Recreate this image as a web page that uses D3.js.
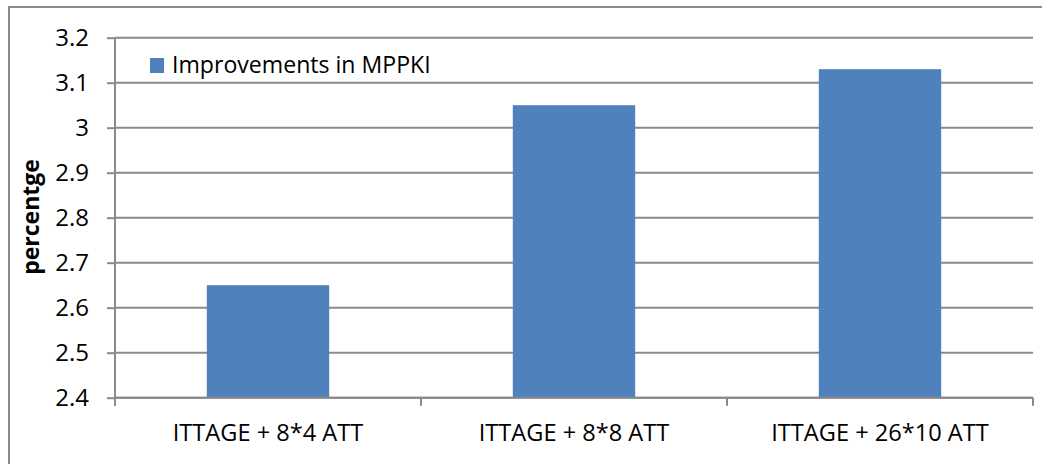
<!DOCTYPE html>
<html>
<head>
<meta charset="utf-8">
<script src="https://cdn.jsdelivr.net/npm/d3@7"></script>
<style>
  html, body { margin: 0; padding: 0; background: #fff; }
  svg { display: block; }
  text { font-family: "Open Sans", sans-serif; fill: #000; }
</style>
</head>
<body>
<svg id="chart" width="1042" height="464"></svg>
<script>
// Chart data
const categories = ["ITTAGE + 8*4 ATT", "ITTAGE + 8*8 ATT", "ITTAGE + 26*10 ATT"];
const mppkiImprovement = [2.65, 3.05, 3.13];
const yTickValues = [2.4, 2.5, 2.6, 2.7, 2.8, 2.9, 3.0, 3.1, 3.2];
const yTickLabels = ["2.4", "2.5", "2.6", "2.7", "2.8", "2.9", "3", "3.1", "3.2"];
const seriesName = "Improvements in MPPKI";
const yTitle = "percentge";

const W = 1042, H = 464;
const margin = { left: 115, right: 9, top: 37.7, bottom: 66.3 };
const gridColor = "#8a8a8a";
const barColor = "#4f81bd";
const FONT = "'Open Sans', sans-serif";

const svg = d3.select("#chart");

// Outer chart frame (runs past the right and bottom edges)
svg.append("rect")
  .attr("x", 9).attr("y", 7)
  .attr("width", W + 20).attr("height", H + 20)
  .attr("fill", "none").attr("stroke", gridColor).attr("stroke-width", 2);

const x = d3.scaleBand()
  .domain(categories)
  .range([margin.left, W - margin.right])
  .padding(0);

const y = d3.scaleLinear()
  .domain([2.4, 3.2])
  .range([H - margin.bottom, margin.top]);

// Horizontal gridlines
svg.append("g")
  .selectAll("line")
  .data(yTickValues)
  .join("line")
  .attr("x1", margin.left).attr("x2", W - margin.right)
  .attr("y1", d => y(d)).attr("y2", d => y(d))
  .attr("stroke", gridColor).attr("stroke-width", 2);

// Bars
const barFrac = 0.4;
svg.append("g")
  .selectAll("rect")
  .data(categories.map((c, i) => ({ c, v: mppkiImprovement[i] })))
  .join("rect")
  .attr("x", d => x(d.c) + x.bandwidth() * (1 - barFrac) / 2)
  .attr("width", x.bandwidth() * barFrac)
  .attr("y", d => y(d.v))
  .attr("height", d => y(2.4) - y(d.v))
  .attr("fill", barColor);

// Y axis
const yAxis = d3.axisLeft(y)
  .tickValues(yTickValues)
  .tickFormat((d, i) => yTickLabels[i])
  .tickSize(8)
  .tickPadding(18);
const gy = svg.append("g")
  .attr("transform", `translate(${margin.left},0)`)
  .call(yAxis);
gy.select(".domain").attr("stroke", gridColor).attr("stroke-width", 2)
  .attr("d", `M0,${y(3.2)}V${y(2.4) + 8}`);
gy.selectAll(".tick line").attr("stroke", gridColor).attr("stroke-width", 2);
gy.selectAll(".tick text")
  .style("font-family", FONT)
  .style("font-size", "24px").attr("fill", "#000");

// X axis with ticks at category boundaries
const xAxisY = y(2.4);
const gx = svg.append("g");
gx.append("line")
  .attr("x1", margin.left).attr("x2", W - margin.right)
  .attr("y1", xAxisY).attr("y2", xAxisY)
  .attr("stroke", gridColor).attr("stroke-width", 2);
const boundaries = categories.map(c => x(c)).concat([x(categories[categories.length - 1]) + x.bandwidth()]);
gx.selectAll("line.tk")
  .data(boundaries)
  .join("line").attr("class", "tk")
  .attr("x1", d => d).attr("x2", d => d)
  .attr("y1", xAxisY).attr("y2", xAxisY + 8)
  .attr("stroke", gridColor).attr("stroke-width", 2);
gx.selectAll("text")
  .data(categories)
  .join("text")
  .attr("x", d => x(d) + x.bandwidth() / 2)
  .attr("y", 441)
  .attr("text-anchor", "middle")
  .style("font-size", "23.6px")
  .text(d => d);

// Y axis title
svg.append("text")
  .attr("transform", "translate(39,217) rotate(-90)")
  .attr("text-anchor", "middle")
  .style("font-size", "23px")
  .style("font-weight", "bold")
  .text(yTitle);

// Legend
const lg = svg.append("g");
lg.append("rect")
  .attr("x", 150).attr("y", 58).attr("width", 14).attr("height", 15)
  .attr("fill", barColor);
lg.append("text")
  .attr("x", 172).attr("y", 73)
  .style("font-size", "23.1px")
  .text(seriesName);
</script>
</body>
</html>
